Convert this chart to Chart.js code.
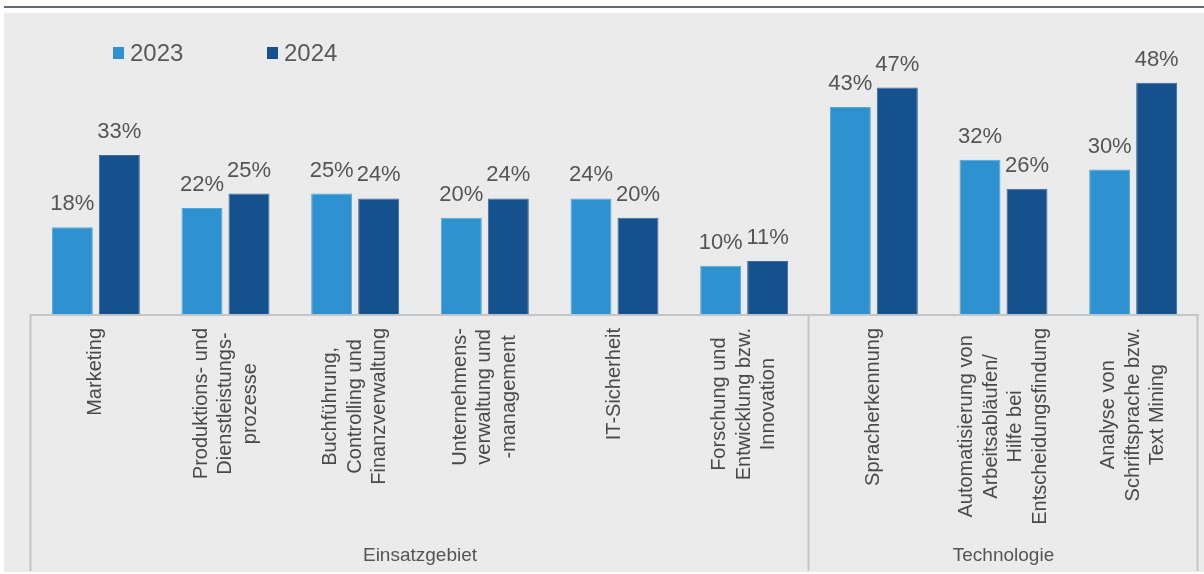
<!DOCTYPE html>
<html>
<head>
<meta charset="utf-8">
<script src="https://cdn.jsdelivr.net/npm/chart.js@4.4.1/dist/chart.umd.min.js"></script>
<style>
  html, body { margin: 0; padding: 0; background: #ffffff; }
  #wrap { position: absolute; left: 0; top: 0; width: 1204px; height: 574px; }
</style>
</head>
<body>
<div id="wrap"><canvas id="c" width="1204" height="574"></canvas></div>
<script>
// ---- data ----
const categories = [
  ["Marketing"],
  ["Produktions- und", "Dienstleistungs-", "prozesse"],
  ["Buchführung,", "Controlling und", "Finanzverwaltung"],
  ["Unternehmens-", "verwaltung und", "-management"],
  ["IT-Sicherheit"],
  ["Forschung und", "Entwicklung bzw.", "Innovation"],
  ["Spracherkennung"],
  ["Automatisierung von", "Arbeitsabläufen/", "Hilfe bei", "Entscheidungsfindung"],
  ["Analyse von", "Schriftsprache bzw.", "Text Mining"]
];
const seriesNames = ["2023", "2024"];
const values2023 = [18, 22, 25, 20, 24, 10, 43, 32, 30];
const values2024 = [33, 25, 24, 24, 20, 11, 47, 26, 48];
const groupNames = ["Einsatzgebiet", "Technologie"];
const groupStart = [0, 6];
const groupEnd = [5, 8];

const FONT = '"Liberation Sans", Arial, sans-serif';
const colLight = '#2e92d0';
const colDark = '#15518d';

const decorPlugin = {
  id: 'decor',
  beforeDraw(chart) {
    const ctx = chart.ctx;
    ctx.save();
    ctx.fillStyle = '#ffffff';
    ctx.fillRect(0, 0, chart.width, chart.height);
    ctx.fillStyle = '#5f6a72';
    ctx.fillRect(4, 6, chart.width - 4, 2);
    ctx.fillStyle = '#ebebeb';
    ctx.fillRect(4, 13, chart.width - 4, 559);
    ctx.restore();
  },
  afterDatasetsDraw(chart) {
    const ctx = chart.ctx;
    const xs = chart.scales.x;
    const ys = chart.scales.y;
    const n = categories.length;
    const cw = (xs.getPixelForValue(1) - xs.getPixelForValue(0));
    const base = ys.getPixelForValue(0);
    ctx.save();
    // axis line
    const leftB = xs.getPixelForValue(0) - cw / 2;
    const rightB = xs.getPixelForValue(n - 1) + cw / 2;
    ctx.strokeStyle = '#c2c6c9';
    ctx.lineWidth = 2;
    ctx.beginPath();
    ctx.moveTo(leftB - 1, base + 1);
    ctx.lineTo(rightB + 1, base + 1);
    ctx.stroke();
    // group boundaries
    const bounds = [leftB];
    groupEnd.forEach(e => bounds.push(xs.getPixelForValue(e) + cw / 2));
    bounds.forEach(bx => {
      ctx.beginPath();
      ctx.moveTo(bx - 0.5, base);
      ctx.lineTo(bx - 0.5, 571);
      ctx.stroke();
    });
    // value labels
    ctx.fillStyle = '#555555';
    ctx.font = '22px ' + FONT;
    ctx.textAlign = 'center';
    ctx.textBaseline = 'alphabetic';
    chart.data.datasets.forEach((ds, di) => {
      const meta = chart.getDatasetMeta(di);
      meta.data.forEach((el, i) => {
        ctx.fillText(ds.data[i] + '%', el.x, el.y - 17);
      });
    });
    // category labels (rotated, centered lines)
    ctx.fillStyle = '#4a4a4a';
    ctx.font = '20px ' + FONT;
    const lh = 24.5;
    categories.forEach((lines, i) => {
      const cx = xs.getPixelForValue(i);
      let maxW = 0;
      lines.forEach(l => { maxW = Math.max(maxW, ctx.measureText(l).width); });
      ctx.save();
      ctx.translate(cx, base + 14 + maxW / 2);
      ctx.rotate(-Math.PI / 2);
      ctx.textAlign = 'center';
      ctx.textBaseline = 'middle';
      lines.forEach((l, k) => {
        ctx.fillText(l, 0, (k - (lines.length - 1) / 2) * lh);
      });
      ctx.restore();
    });
    // group labels
    ctx.fillStyle = '#555555';
    ctx.font = '19px ' + FONT;
    ctx.textAlign = 'center';
    ctx.textBaseline = 'middle';
    groupNames.forEach((g, gi) => {
      const a = xs.getPixelForValue(groupStart[gi]) - cw / 2;
      const b = xs.getPixelForValue(groupEnd[gi]) + cw / 2;
      ctx.fillText(g, (a + b) / 2, 556);
    });
    // legend
    const legX = [113, 267];
    ctx.font = '24px ' + FONT;
    ctx.textAlign = 'left';
    chart.data.datasets.forEach((ds, di) => {
      ctx.fillStyle = ds.backgroundColor;
      ctx.fillRect(legX[di], 47, 11, 12);
      ctx.fillStyle = '#595959';
      ctx.fillText(ds.label, legX[di] + 17, 54);
    });
    ctx.restore();
  }
};

new Chart(document.getElementById('c'), {
  type: 'bar',
  data: {
    labels: categories,
    datasets: [
      { label: seriesNames[0], data: values2023, backgroundColor: colLight, borderColor: '#55a7dc', borderWidth: 1 },
      { label: seriesNames[1], data: values2024, backgroundColor: colDark, borderColor: '#3a6ba2', borderWidth: 1 }
    ]
  },
  options: {
    responsive: false,
    animation: false,
    events: [],
    layout: { padding: { left: 31, right: 6, top: 25, bottom: 260 } },
    datasets: { bar: { categoryPercentage: 0.725, barPercentage: 0.872 } },
    plugins: { legend: { display: false }, tooltip: { enabled: false } },
    scales: {
      x: { display: false },
      y: { display: false, min: 0, max: 60 }
    }
  },
  plugins: [decorPlugin]
});
</script>
</body>
</html>
